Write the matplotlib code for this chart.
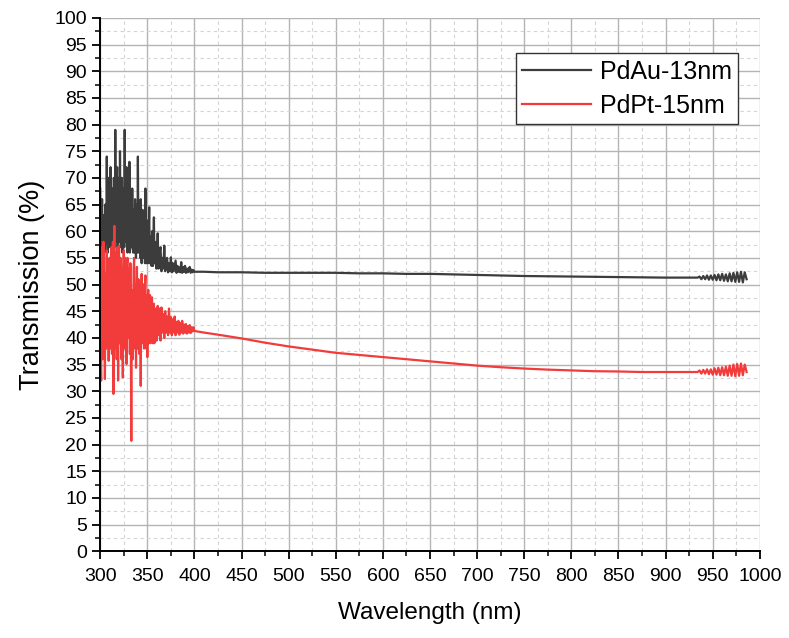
"""Transmission spectra of PdAu and PdPt thin films."""

import matplotlib.pyplot as plt
from matplotlib.ticker import MultipleLocator

plt.rcParams["font.family"] = ["Liberation Sans", "DejaVu Sans"]

# noisy UV part: 0.5 nm steps from 300 to 360 nm, then 1 nm steps to 400 nm
wl_noisy = [300 + 0.5 * i for i in range(121)] + list(range(361, 401))
pdau_noisy = [
    68, 58, 56, 62, 66, 57, 55, 61, 63, 56, 57, 65, 60, 58, 74, 59, 56, 66, 70, 57,
    58, 64, 72, 60, 57, 66, 68, 58, 60, 70, 64, 57, 79, 62, 58, 68, 72, 57, 60, 70,
    66, 58, 75, 60, 57, 67, 70, 56, 59, 68, 64, 57, 79, 60, 58, 69, 72, 57, 56, 65,
    66, 58, 73, 56, 57, 66, 63, 57, 68, 58, 56, 64, 62, 56, 66, 58, 55, 65, 60, 56,
    74, 58, 56, 64, 62, 55, 66, 57, 54, 62, 64, 55, 55, 63, 60, 54, 68, 56, 54, 61,
    62, 54, 55, 60, 64.5, 54, 54, 59, 58, 53.5, 60, 54, 53.5, 58, 62.6, 54, 54, 57, 58, 53,
    53,
    59.6, 53, 56, 57, 52.5, 55, 53, 57.3, 52.5, 54.5,
    55, 52.3, 54, 52.5, 55.1, 52.3, 54, 52.5, 53.5, 54.5,
    52.2, 53.5, 52.4, 53.2, 52.3, 54.2, 52.2, 53.3, 52.4, 53.5,
    52.2, 53, 52.3, 52.9, 53.3, 52.2, 52.8, 52.3, 52.7, 52.4,
]
pdpt_noisy = [
    58, 38, 32, 55, 57, 36, 40, 58, 55, 42, 32.3, 52, 50, 38, 56.4, 40, 42, 54, 35.7, 50,
    55, 40, 38, 56, 57, 37, 45, 58, 29.5, 50, 61, 38, 40, 55, 56, 36, 44, 57, 32, 52,
    57.3, 39, 42, 55, 54, 36, 38, 53, 32.6, 50, 56.4, 38, 44, 55, 52, 38, 35.1, 54, 55, 40,
    42, 53, 50, 37, 54, 40, 20.7, 49, 48, 36, 40, 53, 55, 39, 38, 50, 34.4, 48, 53.3, 38,
    42, 51, 50, 37, 40, 50, 31, 46, 52, 39, 40, 49, 50, 38, 42, 50, 51.7, 40, 38, 48,
    36.4, 47, 49, 39, 40, 48, 48, 39, 41, 47, 47.6, 40, 39, 46, 46.4, 39, 40, 45.5, 45, 39.5,
    39.5,
    46, 40.5, 45.5, 39.5, 45.7, 41, 44.5, 40, 45, 41,
    44, 40.5, 45.5, 41, 43.9, 40.5, 43.5, 41, 44, 40.5,
    43, 41, 43.2, 40.6, 42.8, 41, 43.2, 40.8, 42.5, 41,
    42.6, 40.8, 42.2, 41, 42.4, 40.9, 42, 41.2, 42, 41.3,
]

# smooth visible/NIR part
wl_smooth = [410, 425, 450, 475, 500, 525, 550, 575, 600, 625, 650, 675,
             700, 725, 750, 775, 800, 825, 850, 875, 900, 925, 934]
pdau_smooth = [52.4, 52.3, 52.3, 52.2, 52.2, 52.2, 52.2, 52.1, 52.1, 52.0, 52.0, 51.9,
               51.8, 51.7, 51.6, 51.55, 51.5, 51.45, 51.4, 51.35, 51.3, 51.3, 51.3]
pdpt_smooth = [41.0, 40.6, 39.9, 39.1, 38.4, 37.8, 37.2, 36.8, 36.4, 36.0, 35.6, 35.2,
               34.8, 34.5, 34.25, 34.05, 33.9, 33.75, 33.7, 33.6, 33.6, 33.6, 33.6]

# noisy detector end, 2 nm steps from 936 to 986 nm
wl_end = list(range(936, 987, 2))
pdau_end = [51.5, 51.0, 51.6, 51.0, 51.7, 50.9, 51.7, 50.9, 51.8, 50.8, 51.9, 50.8, 52.0,
            50.7, 51.9, 50.6, 52.1, 50.6, 52.2, 50.5, 52.3, 50.5, 52.4, 50.4, 52.3, 51.0]
pdpt_end = [33.9, 33.3, 34.0, 33.3, 34.1, 33.2, 34.1, 33.1, 34.3, 33.1, 34.4, 33.0, 34.5,
            33.0, 34.6, 32.9, 34.8, 32.9, 35.0, 32.8, 35.1, 32.9, 35.2, 33.0, 35.0, 33.6]

wavelength = wl_noisy + wl_smooth + wl_end
pdau = pdau_noisy + pdau_smooth + pdau_end
pdpt = pdpt_noisy + pdpt_smooth + pdpt_end

fig = plt.figure(figsize=(7.89, 6.38), dpi=100)
ax = fig.add_axes([0.127, 0.136, 0.836, 0.836])

ax.plot(wavelength, pdau, color="#3c3c3c", linewidth=1.6, label="PdAu-13nm")
ax.plot(wavelength, pdpt, color="#f23b3b", linewidth=1.6, label="PdPt-15nm")

ax.set_xlim(300, 1000)
ax.set_ylim(0, 100)
ax.xaxis.set_major_locator(MultipleLocator(50))
ax.xaxis.set_minor_locator(MultipleLocator(25))
ax.yaxis.set_major_locator(MultipleLocator(5))
ax.yaxis.set_minor_locator(MultipleLocator(2.5))

ax.grid(which="major", color="#b4b4b4", linewidth=1.0, linestyle="-")
ax.grid(which="minor", color="#d4d4d4", linewidth=0.8, linestyle=(0, (3, 3)))
ax.set_axisbelow(True)

for side in ("top", "right"):
    ax.spines[side].set_visible(False)
for side in ("left", "bottom"):
    ax.spines[side].set_linewidth(1.4)

ax.tick_params(which="major", direction="out", length=6, width=1.3, labelsize=14)
ax.tick_params(axis="x", which="major", pad=6)
ax.tick_params(which="minor", direction="out", length=3.5, width=1.1)

ax.set_xlabel("Wavelength (nm)", fontsize=17.5, labelpad=12)
ax.set_ylabel("Transmission (%)", fontsize=19.5, labelpad=7)

leg = ax.legend(loc="upper right", bbox_to_anchor=(0.967, 0.934), borderaxespad=0,
                fontsize=18, fancybox=False, framealpha=1, edgecolor="#333333",
                handlelength=2.75, handletextpad=0.35, borderpad=0.26, labelspacing=0.4)
leg.get_frame().set_linewidth(1.0)

fig.savefig("out.png", dpi=100)
